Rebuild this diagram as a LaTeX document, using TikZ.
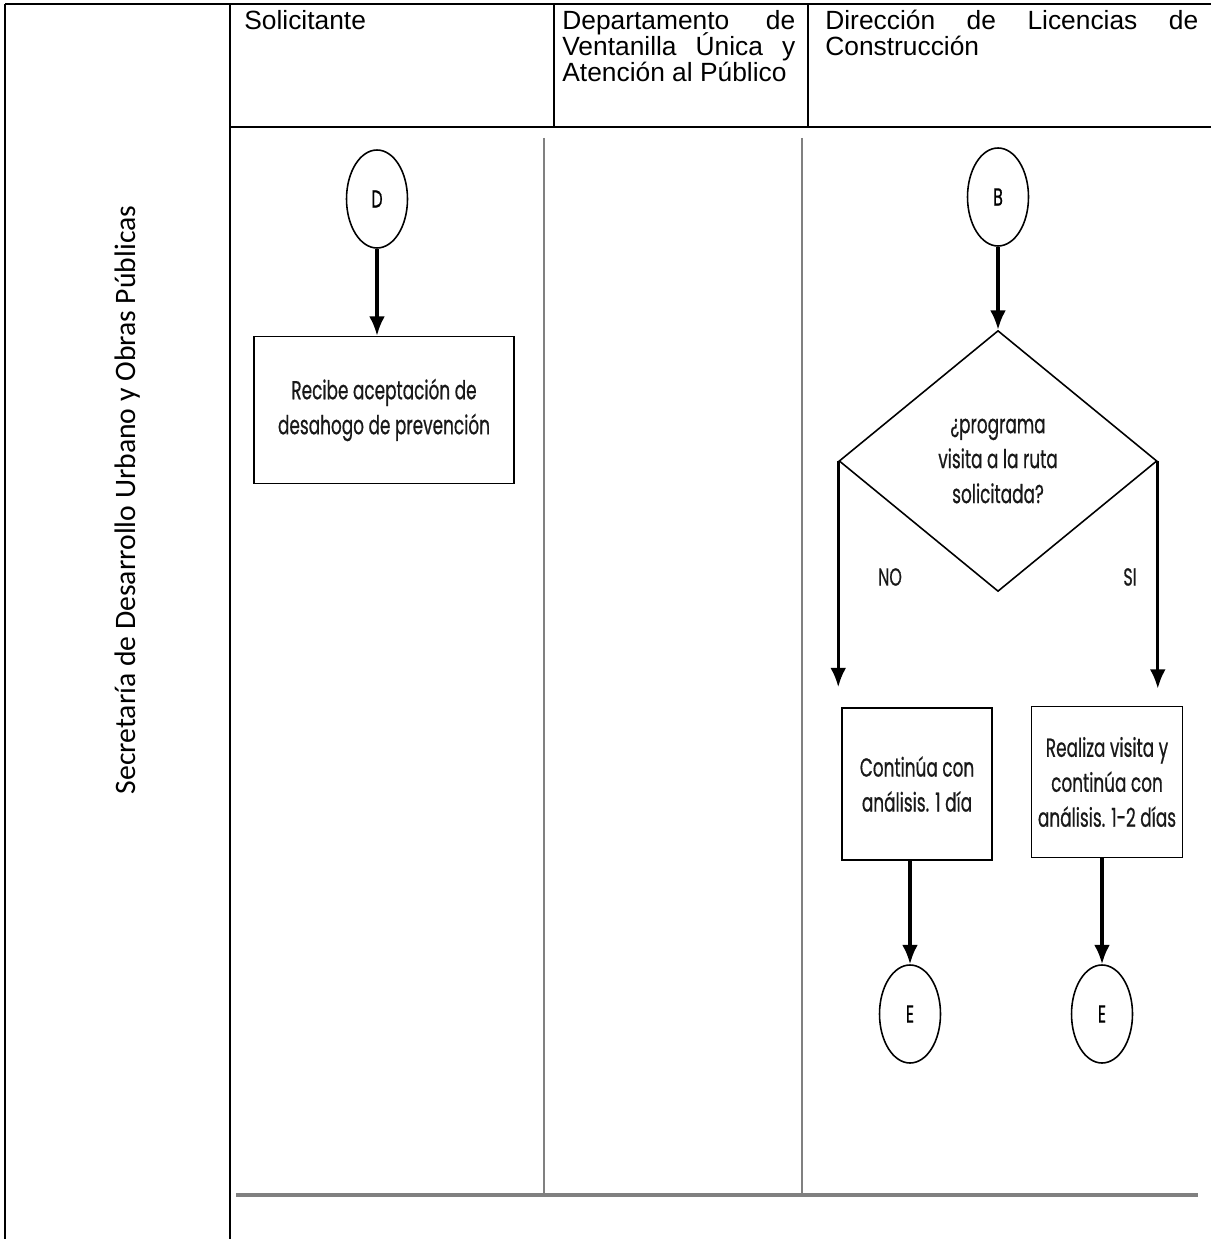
\documentclass[tikz,border=0pt]{standalone}
\usepackage{fontspec}
\setmainfont{Liberation Sans}
\newfontfamily\lanefont{Carlito}
\newfontfamily\flowfont[FakeStretch=0.65,FakeBold=0.6]{Poppins}
\newcommand{\headtext}{\fontsize{15}{14.8}\selectfont\lineskiplimit=-10pt\relax}
\newcommand{\flowtext}{\flowfont\fontsize{14.8}{19.9}\selectfont}
\newcommand{\flowsmall}{\flowfont\fontsize{14}{16}\selectfont}
\usetikzlibrary{positioning,shapes.geometric,arrows.meta}

\begin{document}
\begin{tikzpicture}[x=0.02cm,y=-0.02cm,
  tabla/.style={line width=1.1pt},
  carril/.style={line width=1.3pt,black!50},
  cabecera/.style={inner sep=0pt,font=\headtext,align=justify},
  caja/.style={draw,line width=0.9pt,inner sep=0pt,font=\flowtext,text=black!90,align=center},
  decision/.style={draw,diamond,line width=0.9pt,inner sep=0pt,minimum width=6.36cm,minimum height=5.22cm,font=\flowtext,text=black!90,align=center},
  conector/.style={draw,ellipse,line width=0.9pt,inner sep=0pt,minimum width=1.22cm,minimum height=1.96cm,font=\flowsmall},
  flecha/.style={line width=1.8pt,-{Latex[length=11pt,width=9pt]}}
]
\useasboundingbox (0,0) rectangle (1211,1239);
% Draw the table
\draw[tabla] (5,4) -- (1211,4);
\draw[tabla] (5,4) -- (5,1239);
\draw[tabla] (230,4) -- (230,1239);
\draw[tabla] (230,127) -- (1211,127);
\foreach \x in {554,808}
  \draw[tabla] (\x,4) -- (\x,127);
% Header texts
\node[cabecera,anchor=north west] (sol) at (244,10) {Solicitante};
\node[cabecera,anchor=north west,text width=4.66cm] (ven) at (562,10) {Departamento de\linebreak Ventanilla Única y\linebreak Atención al Público};
\node[cabecera,anchor=north west,text width=7.46cm] (dir) at (825,10) {Dirección de Licencias de\linebreak Construcción};
\node[rotate=90,font=\lanefont\fontsize{16.9}{20}\selectfont] (sec) at (128,500) {Secretaría de Desarrollo Urbano y Obras Públicas};
% Swimlane lines
\draw[carril] (544,138) -- (544,1195);
\draw[carril] (802,138) -- (802,1195);
\draw[carril,line width=2pt] (236,1195) -- (1198,1195);
% Solicitante lane
\node[conector] (d) at (377,199) {D};
\node[caja,minimum width=5.2cm,minimum height=2.94cm] (recibe) at (384,410) {Recibe aceptación de\\desahogo de prevención};
\draw[flecha] (d) -- (d |- recibe.north);
% Direccion lane
\node[conector] (b) at (998,197) {B};
\node[decision] (prog) at (998,461) {¿programa\\visita a la ruta\\solicitada?};
\node[caja,minimum width=3cm,minimum height=3.04cm] (cont) at (917,784) {Continúa con\\análisis. 1 día};
\node[caja,minimum width=3.02cm,minimum height=3.02cm] (realiza) at (1107,782) {Realiza visita y\\continúa con\\análisis. 1-2 días};
\node[conector] (e1) at (910,1014) {E};
\node[conector] (e2) at (1102,1014) {E};
\node[font=\flowsmall,text=black!90] (no) at (890,577) {NO};
\node[font=\flowsmall,text=black!90] (si) at (1130,577) {SI};
\draw[flecha] (b) -- (prog);
\draw[flecha,shorten >=0.4cm] (prog.west) -- (prog.west |- cont.north);
\draw[flecha,shorten >=0.34cm] (prog.east) -- (prog.east |- realiza.north);
\draw[flecha] (cont.south -| e1) -- (e1);
\draw[flecha] (realiza.south -| e2) -- (e2);
\end{tikzpicture}
\end{document}
